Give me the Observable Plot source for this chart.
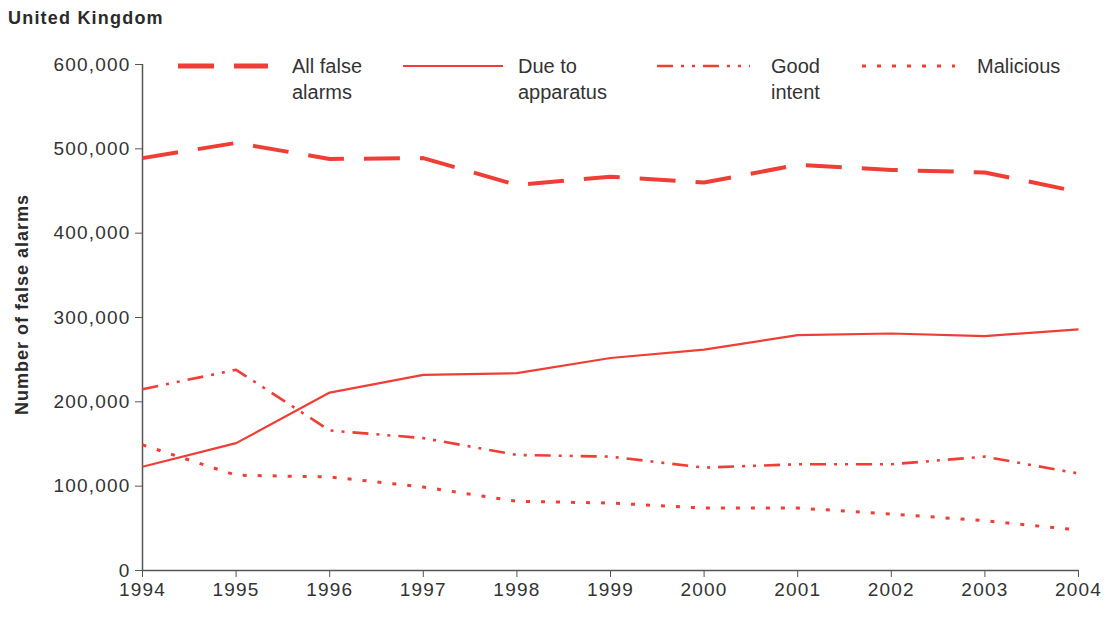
<!DOCTYPE html>
<html>
<head>
<meta charset="utf-8">
<script src="https://cdn.jsdelivr.net/npm/d3@7"></script>
<script src="https://cdn.jsdelivr.net/npm/@observablehq/plot@0.6"></script>
<style>
  html, body { margin: 0; padding: 0; background: #fff; }
  body { width: 1106px; height: 637px; position: relative; overflow: hidden; font-family: "Liberation Sans", Arial, sans-serif; color: #333; }
  #title { position: absolute; left: 8px; top: 8px; font-size: 18px; font-weight: 700; color: #2b2b2b; letter-spacing: 1.2px; }
  #chart { position: absolute; left: 0; top: 40px; }
  #chart svg { font-family: "Liberation Sans", Arial, sans-serif; }
  #chart g[aria-label="y-axis label"] text { font-size: 18px; font-weight: 700; fill: #2b2b2b; letter-spacing: 1px; }
  #chart g[aria-label="y-axis tick label"] text,
  #chart g[aria-label="x-axis tick label"] text { font-size: 19px; fill: #333; letter-spacing: 1.2px; }
  #legend { position: absolute; left: 0; top: 0; width: 1106px; height: 110px; pointer-events: none; }
  .item { position: absolute; top: 53px; font-size: 20px; line-height: 26px; color: #333; }
  .swatch { position: absolute; top: 60px; }
</style>
</head>
<body>
<div id="title">United Kingdom</div>
<div id="chart"></div>
<div id="legend"></div>
<script>
const years = [1994, 1995, 1996, 1997, 1998, 1999, 2000, 2001, 2002, 2003, 2004];
const allFalse = [489000, 507000, 488000, 489000, 457000, 467000, 460000, 481000, 475000, 472000, 449000];
const apparatus = [123000, 151000, 211000, 232000, 234000, 252000, 262000, 279000, 281000, 278000, 286000];
const goodIntent = [215000, 238000, 166000, 157000, 137000, 135000, 122000, 126000, 126000, 135000, 115000];
const malicious = [149000, 113000, 111000, 99000, 82000, 80000, 74000, 74000, 67000, 59000, 48000];
const yTicks = [0, 100000, 200000, 300000, 400000, 500000, 600000];
const seriesNames = ["All false alarms", "Due to apparatus", "Good intent", "Malicious"];
const legendLabels = [["All false", "alarms"], ["Due to", "apparatus"], ["Good", "intent"], ["Malicious"]];

const red = "#ef3e36";
const styles = [
  {strokeWidth: 4, dash: "36,20"},
  {strokeWidth: 2.2, dash: null},
  {strokeWidth: 2.6, dash: "16,8,3,8,3,8"},
  {strokeWidth: 3, dash: "4,11"}
];
const seriesValues = [allFalse, apparatus, goodIntent, malicious];

const lineMarks = seriesValues.map((vals, i) => {
  const data = years.map((y, j) => ({year: y, value: vals[j]}));
  const opts = {x: "year", y: "value", stroke: red, strokeWidth: styles[i].strokeWidth, strokeLinecap: "butt", strokeLinejoin: "round"};
  if (styles[i].dash) opts.strokeDasharray = styles[i].dash;
  return Plot.line(data, opts);
});

const chart = Plot.plot({
  width: 1106,
  height: 597,
  marginLeft: 142,
  marginRight: 28,
  marginTop: 24,
  marginBottom: 67,
  style: {background: "#fff", color: "#333"},
  x: {domain: [1994, 2004]},
  y: {domain: [0, 600000]},
  marks: [
    Plot.axisX({ticks: years, tickFormat: d => String(d), tickSize: 7, tickPadding: 5, stroke: "#555", label: null}),
    Plot.axisY({ticks: yTicks, tickFormat: d3.format(","), tickSize: 7, tickPadding: 5, stroke: "#555",
      label: "Number of false alarms", labelAnchor: "center", labelArrow: "none", labelOffset: 127}),
    Plot.ruleX([1994], {stroke: "#555", strokeWidth: 1.5}),
    Plot.ruleY([0], {stroke: "#555", strokeWidth: 1.5}),
    ...lineMarks
  ]
});
document.getElementById("chart").appendChild(chart);
const yLabel = chart.querySelector('g[aria-label="y-axis label"]');
if (yLabel) {
  const tr = yLabel.getAttribute("transform") || "";
  yLabel.setAttribute("transform", "translate(0,-13) " + tr);
}

// Legend (HTML overlay)
const legend = document.getElementById("legend");
const swatchX = [178, 403, 657, 862];
const swatchW = [90, 100, 93, 93];
const textX = [292, 518, 771, 977];
seriesNames.forEach((name, i) => {
  const s = document.createElementNS("http://www.w3.org/2000/svg", "svg");
  s.setAttribute("class", "swatch");
  s.setAttribute("width", swatchW[i]);
  s.setAttribute("height", 12);
  s.style.left = swatchX[i] + "px";
  const l = document.createElementNS("http://www.w3.org/2000/svg", "line");
  l.setAttribute("x1", 0); l.setAttribute("x2", swatchW[i]);
  l.setAttribute("y1", 6); l.setAttribute("y2", 6);
  l.setAttribute("stroke", red);
  l.setAttribute("stroke-width", styles[i].strokeWidth + (i === 0 ? 1 : 0));
  if (styles[i].dash) l.setAttribute("stroke-dasharray", styles[i].dash);
  s.appendChild(l);
  legend.appendChild(s);
  const t = document.createElement("div");
  t.className = "item";
  t.style.left = textX[i] + "px";
  t.innerHTML = legendLabels[i].join("<br>");
  legend.appendChild(t);
});
</script>
</body>
</html>
